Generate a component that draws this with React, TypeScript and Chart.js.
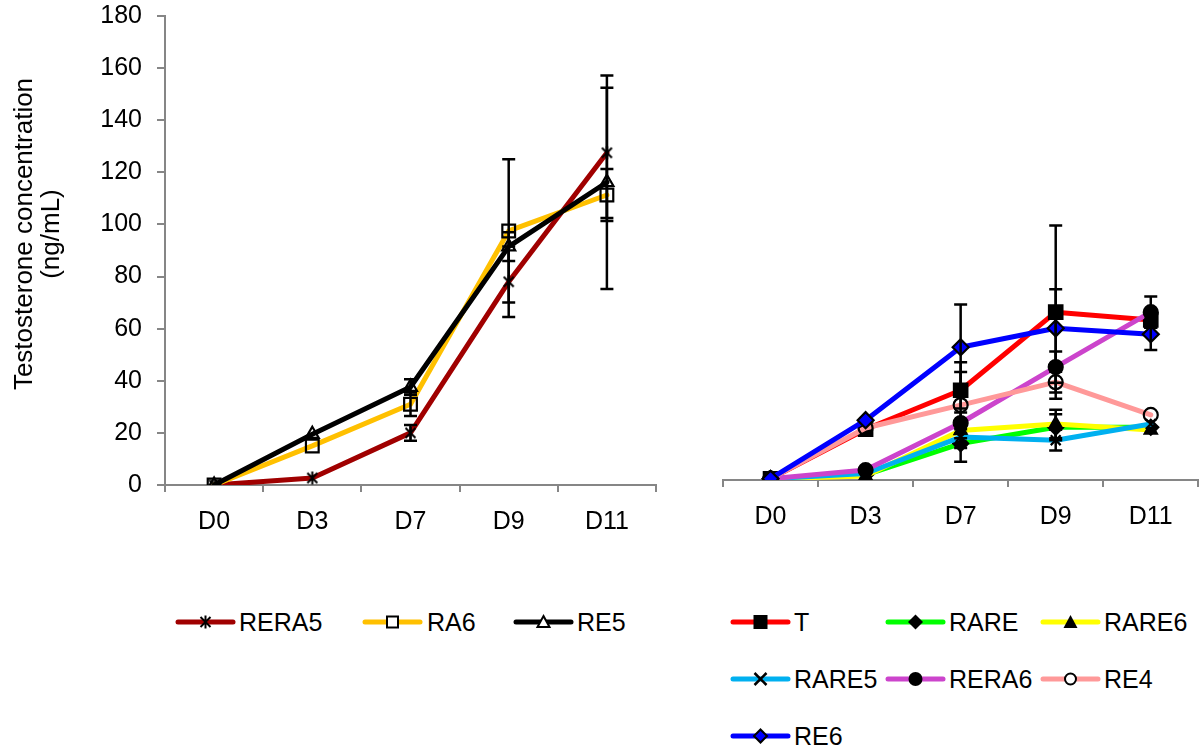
import React, { useEffect, useRef } from 'react';
import { Chart, registerables } from 'chart.js';

Chart.register(...registerables);

const FONT = "'Liberation Sans', Arial, sans-serif";

// ---------- data ----------
const days = ['D0', 'D3', 'D7', 'D9', 'D11'];
const yMin = 0;
const yMax = 180;
const yStep = 20;

// left panel
const rera5 = [0, 2.7, 20, 78, 127.5];
const rera5Err = [0, 0, 3, 13.5, 25];
const ra6 = [0, 15, 31, 97.5, 111.3];
const ra6Err = [0, 0, 4.5, 27.5, 10];
const re5 = [0, 19.5, 37.6, 91.5, 116.2];
const re5Err = [0, 0, 3, 5.5, 41];

// right panel
const tVals = [0.5, 19.5, 34.5, 64.5, 61.5];
const tErr = [0, 0, 7, 33.3, 3];
const rareVals = [0.5, 2, 14, 20.3, 20.3];
const rareErr = [0, 0, 7, 5, 0];
const rare6Vals = [0.5, 1.5, 19, 21.5, 19.2];
const rare6Err = [0, 0, 3, 5.5, 0];
const rare5Vals = [0.5, 2.5, 16.5, 15.3, 21.5];
const rare5Err = [0, 0, 3, 4, 0];
const rera6Vals = [0.5, 3.8, 21.9, 43.4, 64.5];
const rera6Err = [0, 0, 4, 6, 6];
const re4Vals = [0.5, 20, 28.8, 37.6, 25];
const re4Err = [0, 0, 16.5, 4, 0];
const re6Vals = [0.5, 23, 51, 58.3, 56];
const re6Err = [0, 0, 16.5, 15, 6];

// ---------- helpers ----------
function makeAsterisk(): HTMLCanvasElement {
  const c = document.createElement('canvas');
  c.width = 15;
  c.height = 15;
  const g = c.getContext('2d')!;
  g.strokeStyle = '#000';
  g.lineWidth = 2;
  g.beginPath();
  g.moveTo(2.5, 2.5); g.lineTo(12.5, 12.5);
  g.moveTo(12.5, 2.5); g.lineTo(2.5, 12.5);
  g.moveTo(7.5, 1); g.lineTo(7.5, 14);
  g.stroke();
  return c;
}

const errorBarPlugin = {
  id: 'errorBars',
  afterDatasetsDraw(chart: any) {
    const ctx = chart.ctx;
    const yScale = chart.scales.y;
    ctx.save();
    ctx.strokeStyle = '#000';
    ctx.lineWidth = 2.5;
    chart.data.datasets.forEach((ds: any, i: number) => {
      const errs = ds.errors as number[] | undefined;
      if (!errs) return;
      const meta = chart.getDatasetMeta(i);
      meta.data.forEach((pt: any, j: number) => {
        const v = ds.data[j];
        const e = errs[j];
        if (v == null || !e) return;
        const x = pt.x;
        const yt = yScale.getPixelForValue(v + e);
        const yb = yScale.getPixelForValue(v - e);
        ctx.beginPath();
        ctx.moveTo(x, yt); ctx.lineTo(x, yb);
        ctx.moveTo(x - 6.5, yt); ctx.lineTo(x + 6.5, yt);
        ctx.moveTo(x - 6.5, yb); ctx.lineTo(x + 6.5, yb);
        ctx.stroke();
      });
    });
    ctx.restore();
  },
};

function ds(label: string, data: number[], errors: number[], color: string, pointStyle: any, radius: number, fill: string, order: number) {
  return {
    label,
    data,
    errors,
    borderColor: color,
    backgroundColor: color,
    borderWidth: 5,
    borderJoinStyle: 'round',
    borderCapStyle: 'round',
    pointStyle,
    pointRadius: radius,
    pointBorderWidth: 2.2,
    pointBorderColor: '#000',
    pointBackgroundColor: fill,
    tension: 0,
    order,
  } as any;
}

function xScale(height: number) {
  return {
    type: 'category',
    offset: true,
    grid: { display: true, offset: true, drawOnChartArea: false, drawTicks: true, tickLength: 7, color: '#868686', lineWidth: 2 },
    border: { display: true, color: '#868686', width: 2 },
    ticks: { color: '#000', font: { family: FONT, size: 25 }, padding: 15, maxRotation: 0 },
    afterFit: (s: any) => { s.height = height; },
  };
}

function LineChart(props: { width: number; height: number; left: number; datasets: any[]; showY: boolean; padding: any; xHeight: number; yWidth: number; yTopPad: number }) {
  const ref = useRef<HTMLCanvasElement | null>(null);
  useEffect(() => {
    if (!ref.current) return;
    const chart = new Chart(ref.current, {
      type: 'line',
      data: { labels: days, datasets: props.datasets },
      options: {
        responsive: false,
        animation: false,
        devicePixelRatio: 1,
        layout: { padding: props.padding },
        plugins: { legend: { display: false }, tooltip: { enabled: false }, title: { display: false } },
        scales: {
          x: xScale(props.xHeight),
          y: {
            display: props.showY,
            min: yMin,
            max: yMax,
            ticks: { stepSize: yStep, color: '#000', font: { family: FONT, size: 25 }, padding: 15 },
            grid: { drawOnChartArea: false, drawTicks: true, tickLength: 8, color: '#868686', lineWidth: 2 },
            border: { display: true, color: '#868686', width: 2 },
            afterFit: (s: any) => {
              s.width = props.yWidth;
              s.paddingTop = props.yTopPad;
              s.paddingBottom = 0;
            },
          },
        },
      } as any,
      plugins: [errorBarPlugin],
    });
    return () => chart.destroy();
  }, []);
  return (
    <canvas
      ref={ref}
      width={props.width}
      height={props.height}
      style={{ position: 'absolute', left: props.left, top: 0, width: props.width, height: props.height }}
    />
  );
}

type LegendItem = { label: string; color: string; marker: string; x1: number; x2: number; tx: number; y: number };

function Marker({ kind, cx, cy }: { kind: string; cx: number; cy: number }) {
  switch (kind) {
    case 'asterisk':
      return (
        <g stroke="#000" strokeWidth={2}>
          <line x1={cx - 5} y1={cy - 5} x2={cx + 5} y2={cy + 5} />
          <line x1={cx + 5} y1={cy - 5} x2={cx - 5} y2={cy + 5} />
          <line x1={cx} y1={cy - 6.5} x2={cx} y2={cy + 6.5} />
        </g>
      );
    case 'openSquare':
      return <rect x={cx - 5.5} y={cy - 5.5} width={11} height={11} fill="#fff" stroke="#000" strokeWidth={2} />;
    case 'openTriangle':
      return <polygon points={`${cx},${cy - 6} ${cx + 6},${cy + 5} ${cx - 6},${cy + 5}`} fill="#fff" stroke="#000" strokeWidth={2} />;
    case 'square':
      return <rect x={cx - 7} y={cy - 7} width={14} height={14} fill="#000" />;
    case 'diamond':
      return <polygon points={`${cx},${cy - 7.5} ${cx + 7.5},${cy} ${cx},${cy + 7.5} ${cx - 7.5},${cy}`} fill="#000" />;
    case 'triangle':
      return <polygon points={`${cx},${cy - 7} ${cx + 7},${cy + 6} ${cx - 7},${cy + 6}`} fill="#000" />;
    case 'cross':
      return (
        <g stroke="#000" strokeWidth={2.5}>
          <line x1={cx - 6} y1={cy - 6} x2={cx + 6} y2={cy + 6} />
          <line x1={cx + 6} y1={cy - 6} x2={cx - 6} y2={cy + 6} />
        </g>
      );
    case 'circle':
      return <circle cx={cx} cy={cy} r={7} fill="#000" />;
    case 'openCircle':
      return <circle cx={cx} cy={cy} r={5.5} fill="#fff" stroke="#000" strokeWidth={2} />;
    case 'blueDiamond':
      return <polygon points={`${cx},${cy - 6.5} ${cx + 6.5},${cy} ${cx},${cy + 6.5} ${cx - 6.5},${cy}`} fill="#0000FF" stroke="#000" strokeWidth={2} />;
    default:
      return null;
  }
}

function Legend({ items }: { items: LegendItem[] }) {
  return (
    <>
      {items.map((it) => {
        const w = it.x2 - it.x1 + 8;
        return (
          <React.Fragment key={it.label}>
            <svg
              width={w}
              height={24}
              style={{ position: 'absolute', left: it.x1 - 4, top: it.y - 12 }}
            >
              <line x1={4} y1={12} x2={w - 4} y2={12} stroke={it.color} strokeWidth={5} strokeLinecap="round" />
              <Marker kind={it.marker} cx={w / 2} cy={12} />
            </svg>
            <div
              style={{
                position: 'absolute',
                left: it.tx,
                top: it.y - 15,
                height: 30,
                lineHeight: '30px',
                fontFamily: FONT,
                fontSize: 25,
                color: '#000',
                whiteSpace: 'nowrap',
              }}
            >
              {it.label}
            </div>
          </React.Fragment>
        );
      })}
    </>
  );
}

const leftLegend: LegendItem[] = [
  { label: 'RERA5', color: '#A00000', marker: 'asterisk', x1: 178, x2: 233, tx: 239, y: 622 },
  { label: 'RA6', color: '#FFC000', marker: 'openSquare', x1: 365, x2: 420, tx: 427, y: 622 },
  { label: 'RE5', color: '#000000', marker: 'openTriangle', x1: 516, x2: 571, tx: 577, y: 622 },
];

const rightLegend: LegendItem[] = [
  { label: 'T', color: '#FF0000', marker: 'square', x1: 733, x2: 788, tx: 794, y: 622 },
  { label: 'RARE', color: '#00FF00', marker: 'diamond', x1: 888, x2: 943, tx: 949, y: 622 },
  { label: 'RARE6', color: '#FFFF00', marker: 'triangle', x1: 1043, x2: 1098, tx: 1104, y: 622 },
  { label: 'RARE5', color: '#00B0F0', marker: 'cross', x1: 733, x2: 788, tx: 794, y: 679 },
  { label: 'RERA6', color: '#CC44CC', marker: 'circle', x1: 888, x2: 943, tx: 949, y: 679 },
  { label: 'RE4', color: '#FF9999', marker: 'openCircle', x1: 1043, x2: 1098, tx: 1104, y: 679 },
  { label: 'RE6', color: '#0000FF', marker: 'blueDiamond', x1: 733, x2: 788, tx: 794, y: 736 },
];

export default function App() {
  const asterisk = makeAsterisk();
  const leftSets = [
    ds('RERA5', rera5, rera5Err, '#A00000', asterisk, 7, '#000', 3),
    ds('RA6', ra6, ra6Err, '#FFC000', 'rect', 9, 'rgba(0,0,0,0)', 2),
    ds('RE5', re5, re5Err, '#000000', 'triangle', 7.5, 'rgba(0,0,0,0)', 1),
  ];
  const rightSets = [
    ds('T', tVals, tErr, '#FF0000', 'rect', 9.5, '#000', 7),
    ds('RARE', rareVals, rareErr, '#00FF00', 'rectRot', 7.5, '#000', 6),
    ds('RARE6', rare6Vals, rare6Err, '#FFFF00', 'triangle', 7, '#000', 5),
    ds('RARE5', rare5Vals, rare5Err, '#00B0F0', 'crossRot', 7, '#000', 4),
    ds('RERA6', rera6Vals, rera6Err, '#CC44CC', 'circle', 7, '#000', 3),
    ds('RE4', re4Vals, re4Err, '#FF9999', 'circle', 7, 'rgba(0,0,0,0)', 2),
    ds('RE6', re6Vals, re6Err, '#0000FF', 'rectRot', 8, '#0000FF', 1),
  ];

  return (
    <div style={{ position: 'fixed', left: 0, top: 0, width: 1201, height: 750, overflow: 'hidden', background: '#fff' }}>
      <LineChart
        width={680}
        height={560}
        left={0}
        datasets={leftSets}
        showY={true}
        padding={{ left: 0, right: 24, top: 0, bottom: 0 }}
        xHeight={75}
        yWidth={165}
        yTopPad={16}
      />
      <LineChart
        width={530}
        height={560}
        left={680}
        datasets={rightSets}
        showY={false}
        padding={{ left: 43, right: 5.75, top: 11, bottom: 0 }}
        xHeight={80}
        yWidth={0}
        yTopPad={0}
      />
      <div
        style={{
          position: 'absolute',
          left: 37 - 200,
          top: 234 - 27,
          width: 400,
          height: 54,
          transform: 'rotate(-90deg)',
          transformOrigin: '50% 50%',
          textAlign: 'center',
          fontFamily: FONT,
          fontSize: 26,
          lineHeight: '27px',
          color: '#000',
          whiteSpace: 'nowrap',
        }}
      >
        <div>Testosterone concentration</div>
        <div>(ng/mL)</div>
      </div>
      <Legend items={leftLegend} />
      <Legend items={rightLegend} />
    </div>
  );
}
